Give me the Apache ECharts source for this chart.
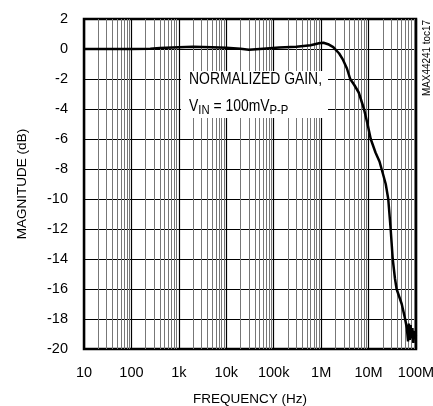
<!DOCTYPE html>
<html>
<head>
<meta charset="utf-8">
<script src="https://cdn.jsdelivr.net/npm/echarts@6/dist/echarts.min.js"></script>
<style>
html,body{margin:0;padding:0;background:#fff;}
#c{width:433px;height:406px;}
</style>
</head>
<body>
<div id="c"></div>
<script>
// Frequency (Hz) and normalized gain (dB)
var freqHz = [10,100,250,400,1000,2000,5000,10000,20000,30000,60000,130000,300000,600000,900000,1.12e6,1.4e6,1.8e6,2.4e6,2.9e6,3.5e6,4.1e6,5.0e6,6.2e6,8.0e6,9.5e6,1.11e7,1.4e7,1.7e7,2.0e7,2.3e7,2.6e7,2.92e7,3.23e7,3.6e7,3.9e7,5.0e7,5.9e7,6.4e7,6.8e7,7.1e7,7.4e7,7.7e7,8.0e7,8.4e7,8.8e7,9.2e7,9.6e7,1e8];
var gainDb = [0,0,0.02,0.07,0.12,0.15,0.12,0.08,0.02,-0.05,0.02,0.1,0.15,0.25,0.38,0.42,0.32,0.12,-0.3,-0.73,-1.3,-2.0,-2.4,-2.9,-4.0,-5.0,-6.0,-6.9,-7.5,-8.3,-9.0,-10.0,-12.0,-14.0,-15.3,-16.0,-17.0,-18.0,-18.6,-19.5,-18.3,-19.4,-18.4,-19.3,-18.6,-19.6,-18.8,-19.3,-19.1];
var xTickValues = [10,100,1000,10000,100000,1000000,10000000,100000000];
var xTickLabels = ['10','100','1k','10k','100k','1M','10M','100M'];
var yMin = -20, yMax = 2, yStep = 2;

var FONT = '"Liberation Sans Narrow", "Liberation Sans", Arial, sans-serif';

var minorLines = [];
for (var d = 10; d < 1e8; d *= 10) {
  for (var k = 2; k <= 9; k++) minorLines.push({xAxis: k * d});
}

var chart = echarts.init(document.getElementById('c'), null, {renderer: 'canvas'});
chart.setOption({
  animation: false,
  backgroundColor: '#fff',
  grid: {left: 84, right: 17, top: 19, bottom: 57, show: true, borderColor: '#000', borderWidth: 2.5,
    backgroundColor: 'transparent', containLabel: false, outerBoundsMode: 'none'},
  xAxis: {
    type: 'log', logBase: 10, min: 10, max: 1e8, splitNumber: 7,
    name: 'FREQUENCY (Hz)', nameLocation: 'middle', nameGap: 43,
    nameTextStyle: {fontFamily: FONT, fontSize: 13.5, color: '#000'},
    axisLine: {show: false}, axisTick: {show: false},
    axisLabel: {fontFamily: FONT, fontSize: 14.5, color: '#000', margin: 16,
      formatter: function (v) { var i = xTickValues.indexOf(Math.round(v)); return i >= 0 ? xTickLabels[i] : ''; }},
    splitLine: {show: true, lineStyle: {color: '#000', width: 1.2}}
  },
  yAxis: {
    type: 'value', min: yMin, max: yMax, interval: yStep,
    name: 'MAGNITUDE (dB)', nameLocation: 'middle', nameGap: 55,
    nameTextStyle: {fontFamily: FONT, fontSize: 13.5, color: '#000'},
    axisLine: {show: false}, axisTick: {show: false},
    axisLabel: {fontFamily: FONT, fontSize: 14.5, color: '#000', margin: 16},
    splitLine: {show: true, lineStyle: {color: '#000', width: 1}}
  },
  series: [
    {
      type: 'line', data: [], silent: true,
      markLine: {silent: true, symbol: ['none', 'none'], label: {show: false},
        lineStyle: {color: '#777', width: 1, type: 'solid'}, emphasis: {disabled: true},
        data: minorLines}
    },
    {
      type: 'line', showSymbol: false, symbol: 'none', smooth: false,
      lineStyle: {color: '#000', width: 2.5}, z: 5,
      data: freqHz.map(function (f, i) { return [f, gainDb[i]]; })
    }
  ],
  graphic: [
    {type: 'rect', z: 100, shape: {x: 181, y: 71, width: 147, height: 47}, style: {fill: '#fff'}},
    {type: 'text', z: 101, x: 189, y: 72, scaleX: 0.87,
      style: {text: 'NORMALIZED GAIN,', fontFamily: FONT, fontSize: 16, fill: '#000'}},
    {type: 'text', z: 101, x: 189, y: 97, scaleX: 0.87,
      style: {text: '{m|V}{s|IN}{m| = 100mV}{s|P-P}', fontFamily: FONT, fill: '#000',
        rich: {m: {fontSize: 16, lineHeight: 20, fontFamily: FONT, fill: '#000'},
               s: {fontSize: 13, lineHeight: 14, verticalAlign: 'bottom', fontFamily: FONT, fill: '#000'}}}},
    {type: 'text', z: 101, x: 421, y: 96, rotation: Math.PI / 2, scaleX: 0.9,
      style: {text: 'MAX44241 toc17', fontFamily: FONT, fontSize: 11, fill: '#000'}}
  ]
});
</script>
</body>
</html>
